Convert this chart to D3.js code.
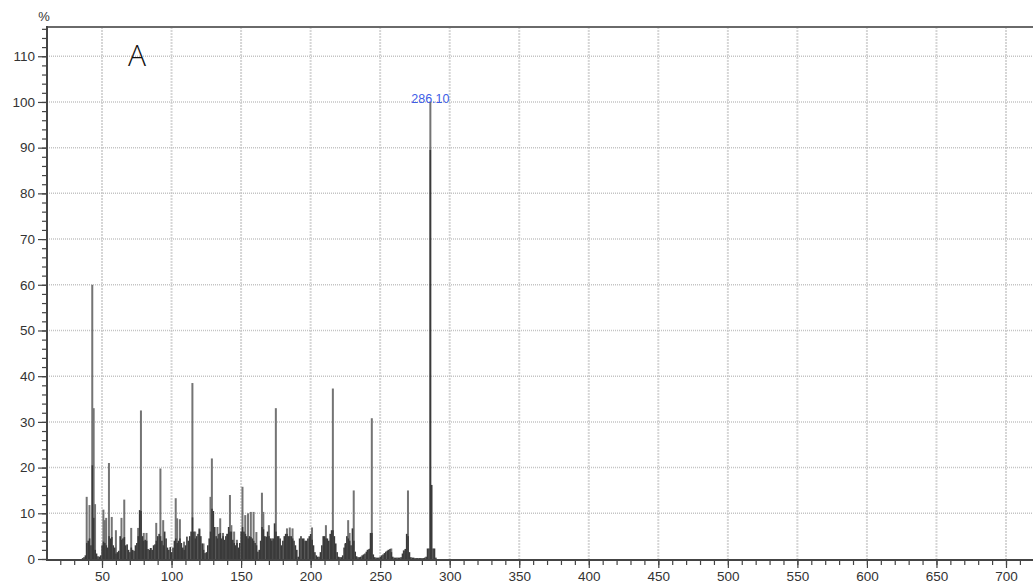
<!DOCTYPE html>
<html>
<head>
<meta charset="utf-8">
<script src="https://cdn.jsdelivr.net/npm/d3@7"></script>
<style>
  html, body { margin: 0; padding: 0; background: #fff; }
  svg { display: block; }
</style>
</head>
<body>
<svg id="chart" width="1033" height="588"></svg>
<script>
// ---------------- DATA ----------------
const xTickValues = [50, 100, 150, 200, 250, 300, 350, 400, 450, 500, 550, 600, 650, 700];
const yTickValues = [0, 10, 20, 30, 40, 50, 60, 70, 80, 90, 100, 110];
const panelLetter = "A";
const yUnit = "%";

// centroid sticks (light grey)
const stickMz = [39, 41, 43, 44, 45, 51, 52, 53, 55, 57, 60, 64, 66, 71, 76, 78, 80, 82, 85, 89, 92, 94,
  103, 104, 106, 109, 115, 117, 120, 123, 128, 129, 133, 135, 137, 140, 142, 143, 145, 147, 151, 153, 155,
  157, 159, 161, 165, 166, 170, 172, 175, 183, 185, 187, 201, 211, 216, 225, 227, 228, 231, 241, 243, 244,
  256, 258, 267, 269, 270, 286.1];
const stickIntensity = [13.6, 11.8, 60, 33, 12, 10.8, 8.5, 9, 21, 9.2, 6.3, 9, 13, 6.8, 6.8, 32.5, 5.7, 5.7, 2.4, 7.9, 19.8, 8.5,
  13.3, 8.9, 8.7, 3.8, 38.5, 6, 6.7, 3.4, 13.6, 22, 7, 8.9, 5.7, 5.5, 14, 7.4, 6, 4.2, 15.8, 9.6, 10,
  10.3, 10.3, 5.9, 14.5, 10.3, 7.4, 4.5, 33, 6.7, 6.9, 6.7, 6.9, 7.4, 37.3, 3.3, 8.5, 5.7, 15, 2, 2.3, 30.8,
  2, 2.3, 1.9, 2.2, 15, 100];

// dense profile (dark), integer m/z 36..290
const profileMz = d3.range(36, 291);
const profileIntensity = [
  0.2, 0.4, 0.8, 3.5, 4, 4.5, 3, 20.5, 9, 2,          // 36-45
  1.2, 0.6, 0.5, 0.8, 3, 3.8, 3.5, 3, 2.5, 5,         // 46-55
  4.5, 4.8, 3, 2.5, 1.2, 1.5, 1.8, 5, 4.2, 4.5,       // 56-65
  4.8, 3, 3.2, 2, 1.5, 2.5, 2, 1.8, 3, 3.5,           // 66-75
  5, 10.7, 10.5, 5, 4, 4.2, 4, 2.2, 2, 2.4,           // 76-85
  2, 3, 3.2, 4, 5, 5.5, 5, 4, 3, 6,                   // 86-95
  4.5, 2.5, 2, 2.6, 1.5, 2.5, 4, 4.5, 3.5, 4,         // 96-105
  4.5, 3.5, 2.5, 2, 3, 4.9, 4, 5, 6, 9.1,             // 106-115
  6, 4.5, 5, 5.5, 6.5, 5, 3.4, 2, 1.3, 1.5,           // 116-125
  3, 4.5, 6, 11, 10.5, 7, 5, 4.5, 5.5, 5.7,           // 126-135
  4.5, 5, 4.2, 5, 5.5, 7, 6, 6, 4.2, 3.5,             // 136-145
  3, 3.5, 2.5, 3.5, 6, 7, 6, 5.5, 5, 4.5,             // 146-155
  5, 4.8, 4.5, 4, 3.5, 3, 1.6, 2, 4, 7,               // 156-165
  6.5, 5, 4.9, 6, 5, 4.5, 4, 4.5, 7.8, 6,             // 166-175
  5, 5, 4.5, 3, 4, 5, 5.5, 5.5, 5, 5,                 // 176-185
  5, 4.5, 4, 3, 2, 0.5, 4.5, 5, 4.5, 4.5,             // 186-195
  4, 4, 4.5, 5, 5.5, 4.2, 3, 1.5, 0.8, 0.5,           // 196-205
  0.5, 1.5, 3, 5, 5, 4.5, 4.5, 4, 5.5, 6.3,           // 206-215
  6.3, 5, 3.4, 1.5, 0.5, 0.4, 0.4, 0.8, 2.5, 3.5,     // 216-225
  5, 4.5, 4, 3, 6.7, 4, 1.6, 0.6, 0.4, 0.4,           // 226-235
  0.5, 0.8, 1, 1.2, 1.6, 2, 2.2, 5.7, 5.7, 1,         // 236-245
  0.4, 0.3, 0.3, 0.3, 0.5, 0.8, 1, 1.3, 1.6, 1.8,     // 246-255
  2, 2.2, 1.5, 0.5, 0.3, 0.3, 0.3, 0.3, 0.3, 0.4,     // 256-265
  1.2, 1.8, 2.2, 5.5, 5, 1.5, 0.4, 0.3, 0.3, 0.2,     // 266-275
  0.2, 0.2, 0.2, 0.2, 0.2, 0.2, 0.3, 0.5, 2.3, 2.3,   // 276-285
  89.5, 16.2, 2.3, 2.3, 0.3                           // 286-290
];

const peakLabelText = "286.10";
const peakLabelMz = 286.1;
const peakLabelIntensity = 100;

// ---------------- LAYOUT ----------------
const svg = d3.select("#chart");
const plotLeft = 47, plotRight = 1033, plotTop = 27, plotBottom = 559;

const x = d3.scaleLinear().domain([50, 700]).range([102, 1006]);
const y = d3.scaleLinear().domain([0, 116.4]).range([plotBottom, plotTop]);

const fontFam = "'Liberation Sans', Arial, sans-serif";

// clip
svg.append("defs").append("clipPath").attr("id", "plotclip")
  .append("rect").attr("x", plotLeft).attr("y", plotTop)
  .attr("width", plotRight - plotLeft).attr("height", plotBottom - plotTop);

// grid
const grid = svg.append("g").attr("clip-path", "url(#plotclip)");
grid.selectAll("line.v").data(xTickValues).join("line")
  .attr("class", "v")
  .attr("x1", d => x(d)).attr("x2", d => x(d))
  .attr("y1", plotTop).attr("y2", plotBottom)
  .attr("stroke", "#d6d6d6").attr("stroke-width", 2).attr("stroke-dasharray", "2,1");
grid.selectAll("line.h").data(yTickValues.filter(d => d > 0)).join("line")
  .attr("class", "h")
  .attr("x1", plotLeft).attr("x2", plotRight)
  .attr("y1", d => y(d)).attr("y2", d => y(d))
  .attr("stroke", "#c4c4c4").attr("stroke-width", 1.5).attr("stroke-dasharray", "1,1");

// data
const dataG = svg.append("g").attr("clip-path", "url(#plotclip)");
const sticks = stickMz.map((m, i) => ({ m, v: stickIntensity[i] }));
dataG.selectAll("rect.stick").data(sticks).join("rect")
  .attr("class", "stick")
  .attr("x", d => x(d.m) - 1)
  .attr("width", 2)
  .attr("y", d => y(d.v))
  .attr("height", d => y(0) - y(d.v))
  .attr("fill", "#747474");

const prof = profileMz.map((m, i) => ({ m, v: profileIntensity[i] }));
const step = x(1) - x(0);
dataG.selectAll("rect.prof").data(prof).join("rect")
  .attr("class", "prof")
  .attr("x", d => x(d.m) - step / 2)
  .attr("width", step + 0.2)
  .attr("y", d => y(d.v))
  .attr("height", d => y(0) - y(d.v))
  .attr("fill", "#3a3a3a");

// top border
svg.append("line")
  .attr("x1", plotLeft).attr("x2", plotRight)
  .attr("y1", plotTop).attr("y2", plotTop)
  .attr("stroke", "#6a6a6a").attr("stroke-width", 2);

// y axis
const yAxisG = svg.append("g").attr("transform", `translate(${plotLeft},0)`);
yAxisG.call(d3.axisLeft(y).tickValues(d3.range(0, 117, 2)).tickSize(5).tickFormat(""));
yAxisG.call(g => g.select(".domain").remove());
const yMajor = svg.append("g").attr("transform", `translate(${plotLeft},0)`);
yMajor.call(d3.axisLeft(y).tickValues(yTickValues).tickSize(9).tickPadding(3));
yMajor.select(".domain").remove();
svg.selectAll("g line").filter(function(){ return this.parentNode.classList.contains("tick"); })
  .attr("stroke", "#444").attr("stroke-width", 1.2);
yMajor.selectAll("text").attr("font-family", fontFam).attr("font-size", "13.5px").attr("fill", "#333");

// x axis
const xMinorG = svg.append("g").attr("transform", `translate(0,${plotBottom + 1})`);
xMinorG.call(d3.axisBottom(x).tickValues(d3.range(20, 721, 10)).tickSize(5).tickFormat(""));
xMinorG.select(".domain").remove();
const xMajorG = svg.append("g").attr("transform", `translate(0,${plotBottom + 1})`);
xMajorG.call(d3.axisBottom(x).tickValues(xTickValues).tickSize(8).tickPadding(3));
xMajorG.select(".domain").remove();
[xMinorG, xMajorG].forEach(g => g.selectAll(".tick line").attr("stroke", "#444").attr("stroke-width", 1.2));
xMajorG.selectAll("text").attr("font-family", fontFam).attr("font-size", "13.5px").attr("fill", "#333");

// axis lines
svg.append("line").attr("x1", plotLeft).attr("x2", plotLeft)
  .attr("y1", plotTop - 1).attr("y2", plotBottom + 2)
  .attr("stroke", "#444").attr("stroke-width", 2);
svg.append("line").attr("x1", plotLeft).attr("x2", plotRight)
  .attr("y1", plotBottom + 1).attr("y2", plotBottom + 1)
  .attr("stroke", "#444").attr("stroke-width", 2);

// % unit
svg.append("text").attr("x", 44).attr("y", 21).attr("text-anchor", "middle")
  .attr("font-family", fontFam).attr("font-size", "13px").attr("fill", "#333").text(yUnit);

// panel letter
svg.append("text").attr("x", 137).attr("y", 66).attr("text-anchor", "middle")
  .attr("font-family", "'Open Sans', sans-serif").attr("font-size", "30px").attr("font-weight", 300)
  .attr("fill", "#111").text(panelLetter);

// peak label
svg.append("text").attr("x", x(peakLabelMz)).attr("y", y(peakLabelIntensity) + 1)
  .attr("text-anchor", "middle")
  .attr("font-family", fontFam).attr("font-size", "12.5px").attr("fill", "#3d5ce6")
  .text(peakLabelText);
</script>
</body>
</html>
